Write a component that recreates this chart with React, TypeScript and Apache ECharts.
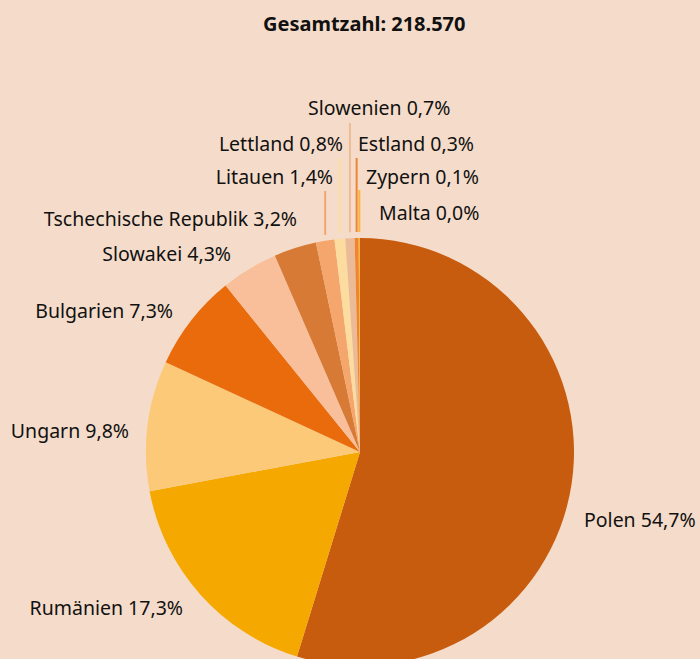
import React, { useEffect, useRef } from "react";
import * as echarts from "echarts";

const countries = [
  "Polen",
  "Rumänien",
  "Ungarn",
  "Bulgarien",
  "Slowakei",
  "Tschechische Republik",
  "Litauen",
  "Lettland",
  "Slowenien",
  "Estland",
  "Zypern",
  "Malta",
];
const shares = [54.7, 17.3, 9.8, 7.3, 4.3, 3.2, 1.4, 0.8, 0.7, 0.3, 0.1, 0.0];
const shareLabels = ["54,7%", "17,3%", "9,8%", "7,3%", "4,3%", "3,2%", "1,4%", "0,8%", "0,7%", "0,3%", "0,1%", "0,0%"];
const colors = [
  "#c85c0e",
  "#f5a800",
  "#fbc978",
  "#ea6b0c",
  "#f8bf9a",
  "#d67a36",
  "#f4a66c",
  "#fddca0",
  "#ebbb98",
  "#ef8533",
  "#fbb437",
  "#f5a800",
];
const totalLabel = "Gesamtzahl: 218.570";

// label layout: [x, y, align, lineTopY or null]
const labelPos: [number, number, string, number | null][] = [
  [584, 519, "left", null],
  [183, 607, "right", null],
  [129, 430, "right", null],
  [173, 310, "right", null],
  [231, 253, "right", null],
  [297, 218, "right", null],
  [333, 176, "right", 191],
  [343, 143, "right", 158],
  [308, 107, "left", 123],
  [358, 143, "left", 158],
  [366, 176, "left", 190],
  [379, 212, "left", null],
];

export default function App() {
  const ref = useRef<HTMLDivElement>(null);
  useEffect(() => {
    if (!ref.current) return;
    const chart = echarts.init(ref.current, null, { renderer: "svg" });
    const cx = 360;
    const cy = 452;
    const r = 214;
    chart.setOption({
      animation: false,
      backgroundColor: "#f5dcca",
      title: {
        text: totalLabel,
        left: 258,
        top: 8,
        textStyle: {
          fontFamily: "Noto Sans",
          fontWeight: "bold",
          fontSize: 20,
          color: "#111",
        },
      },
      series: [
        {
          type: "pie",
          center: [cx, cy],
          radius: [0, r],
          startAngle: 90,
          clockwise: true,
          minAngle: 0,
          avoidLabelOverlap: false,
          itemStyle: { borderWidth: 0 },
          label: {
            show: true,
            position: "outside",
            fontFamily: "Noto Sans",
            fontSize: 19.5,
            color: "#111",
            formatter: (p: any) => p.name + " " + shareLabels[p.dataIndex],
          },
          labelLine: { show: true, lineStyle: { width: 2 } },
          labelLayout: (p: any) => {
            const lp = labelPos[p.dataIndex];
            const res: any = {
              x: lp[0],
              y: lp[1],
              align: lp[2],
              verticalAlign: "middle",
            };
            if (lp[3] !== null && p.labelLinePoints) {
              const px = p.labelLinePoints[0][0];
              const py = p.labelLinePoints[0][1] - 6;
              res.labelLinePoints = [
                [px, py],
                [px, lp[3]],
                [px, lp[3]],
              ];
            }
            return res;
          },
          data: countries.map((c, i) => ({
            name: c,
            value: shares[i],
            itemStyle: { color: colors[i] },
            labelLine: { show: labelPos[i][3] !== null, lineStyle: { color: colors[i], width: 2 } },
          })),
        },
      ],
    });
    return () => chart.dispose();
  }, []);
  return (
    <div
      ref={ref}
      style={{ position: "fixed", left: 0, top: 0, width: 700, height: 659 }}
    />
  );
}
